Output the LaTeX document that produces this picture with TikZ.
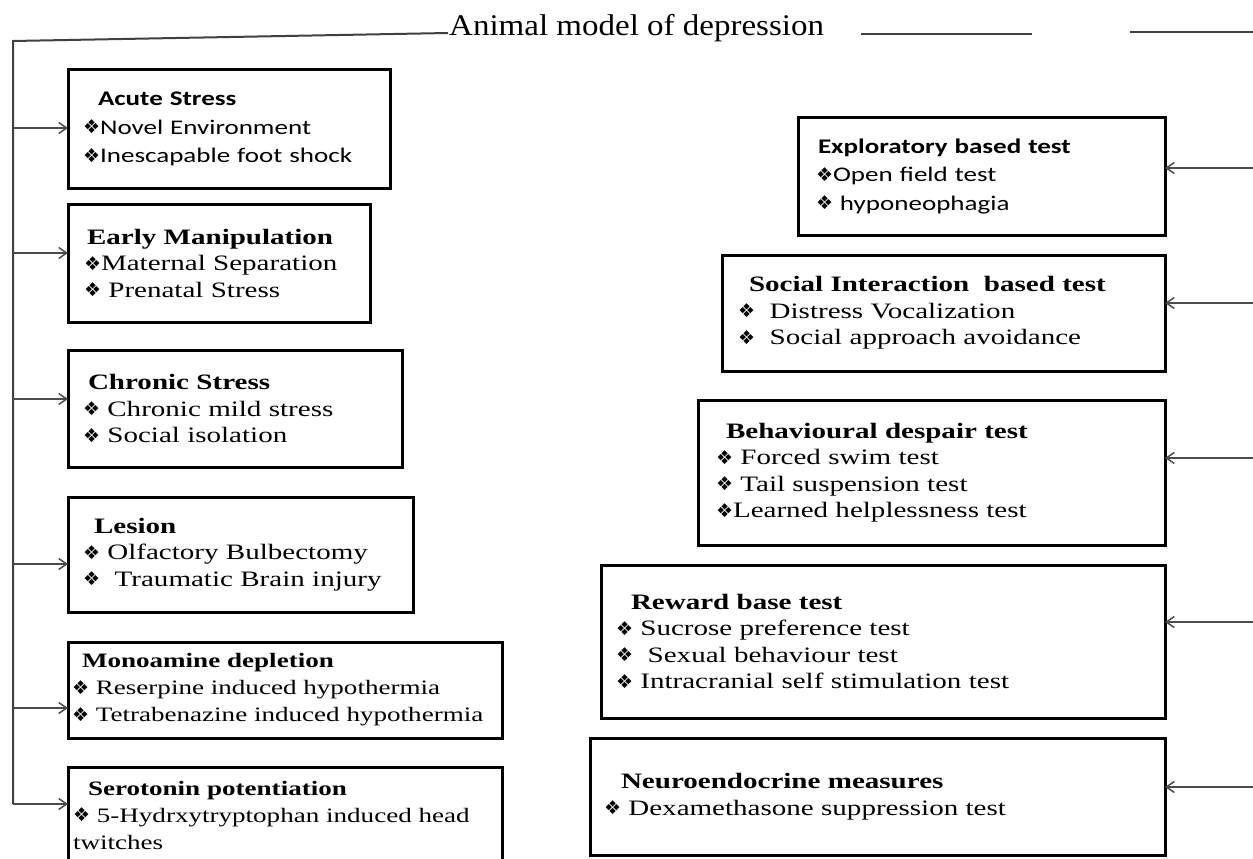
\documentclass[tikz,border=0pt]{standalone}
\usepackage{fontspec}
\setmainfont{Liberation Serif}[FakeStretch=1.32]
\newfontfamily\calfont{Carlito}[FakeStretch=1.3]
\newfontfamily\djfont{DejaVu Sans}
\newfontfamily\ttlfont{Liberation Serif}[FakeStretch=1.1]
\usetikzlibrary{arrows.meta}
\newcommand\bul{{\djfont\fontsize{19}{19}\selectfont\raisebox{0.5pt}{❖}}}
\tikzset{
  box/.style={draw=black, line width=3pt, anchor=north west, align=left,
    inner ysep=0pt, outer sep=0pt, font=\fontsize{22}{26.5}\selectfont,
    execute at begin node={\hyphenpenalty=10000\exhyphenpenalty=10000}},
  smallbox/.style={box, font=\fontsize{20.5}{27}\selectfont},
  calbox/.style={box, font=\calfont\fontsize{20.8}{28.5}\selectfont},
  arr/.style={draw=black!70, line width=1.5pt, -{Straight Barb[length=8pt,width=11pt]}},
  trunk/.style={draw=black!75, line width=2pt},
}
\begin{document}
\begin{tikzpicture}[x=1pt,y=-1pt]
\useasboundingbox (0,0) rectangle (1253,859);
\fill[white] (0,0) rectangle (1253,859);
\clip (0,0) rectangle (1253,859);

% title
\node[font=\ttlfont\fontsize{30}{30}\selectfont, anchor=base west, inner sep=0pt] (title) at (449,36) {Animal model of depression};

% left boxes
\node[calbox, minimum width=322, minimum height=118, inner xsep=15, text width=292] (acute) at (68,70)
 {\hspace*{15pt}\textbf{Acute Stress}\\\bul Novel Environment\\\bul Inescapable foot shock};
\node[box, minimum width=302, minimum height=118, inner xsep=16, text width=270] (early) at (68,204)
 {\hspace*{3pt}\textbf{Early Manipulation}\\\bul Maternal Separation\\\bul\ Prenatal Stress};
\node[box, minimum width=334, minimum height=117, inner xsep=15, text width=304] (chronic) at (68,350)
 {\hspace*{5pt}\textbf{Chronic Stress}\\\bul\ Chronic mild stress\\\bul\ Social isolation};
\node[box, minimum width=345, minimum height=115, inner xsep=15, text width=315] (lesion) at (68,497)
 {\hspace*{11pt}\textbf{Lesion}\\\bul\ Olfactory Bulbectomy\\\bul\ \ Traumatic Brain injury};
\node[smallbox, minimum width=434, minimum height=96, inner xsep=4, text width=426] (mono) at (68,642)
 {\hspace*{10pt}\textbf{Monoamine depletion}\\\bul\ Reserpine induced hypothermia\\\bul\ Tetrabenazine induced hypothermia};
\node[smallbox, minimum width=434, minimum height=96, inner xsep=5, text width=424] (sero) at (68,767)
 {\hspace*{15pt}\textbf{Serotonin potentiation}\\\bul\ 5-Hydrxytryptophan induced head\\twitches};

% right boxes
\node[calbox, minimum width=367, minimum height=118, inner xsep=18, text width=331] (explor) at (798,117)
 {\hspace*{2pt}\textbf{Exploratory based test}\\\bul Open field test\\\bul\ hyponeophagia};
\node[box, minimum width=443, minimum height=116, inner xsep=16, text width=411] (social) at (722,255)
 {\hspace*{11pt}\textbf{Social Interaction\ \ based test}\\\bul\ \ Distress Vocalization\\\bul\ \ Social approach avoidance};
\node[box, minimum width=467, minimum height=145, inner xsep=18, text width=431] (behav) at (698,400)
 {\hspace*{10pt}\textbf{Behavioural despair test}\\\bul\ Forced swim test\\\bul\ Tail suspension test\\\bul Learned helplessness test};
\node[box, minimum width=564, minimum height=153, inner xsep=15, text width=534] (reward) at (601,565)
 {\hspace*{15pt}\textbf{Reward base test}\\\bul\ Sucrose preference test\\\bul\ \ Sexual behaviour test\\\bul\ Intracranial self stimulation test};
\node[box, minimum width=575, minimum height=117, inner xsep=14, text width=547] (neuro) at (590,738)
 {\hspace*{17pt}\textbf{Neuroendocrine measures}\\\bul\ Dexamethasone suppression test\\[8pt]};

% left trunk
\coordinate (tl) at (448,33);
\coordinate (corner) at (13,41);
\coordinate (bot) at (13,804);
\draw[trunk] (tl) -- (corner) -- (bot);
\coordinate (t1) at (13,128);
\coordinate (t2) at (13,253);
\coordinate (t3) at (13,399);
\coordinate (t4) at (13,564);
\coordinate (t5) at (13,708);
\draw[arr] (t1) -- (acute.west |- t1);
\draw[arr] (t2) -- (early.west |- t2);
\draw[arr] (t3) -- (chronic.west |- t3);
\draw[arr] (t4) -- (lesion.west |- t4);
\draw[arr] (t5) -- (mono.west |- t5);
\draw[arr] (bot) -- (sero.west |- bot);

% top right segments
\coordinate (s1a) at (861,34);
\coordinate (s1b) at (1032,34);
\coordinate (s2a) at (1130,32);
\coordinate (s2b) at (1253,32);
\draw[trunk] (s1a) -- (s1b);
\draw[trunk] (s2a) -- (s2b);

% right arrows
\coordinate (r1) at (1253,168);
\coordinate (r2) at (1253,303);
\coordinate (r3) at (1253,458);
\coordinate (r4) at (1253,622);
\coordinate (r5) at (1253,787);
\draw[arr] (r1) -- (explor.east |- r1);
\draw[arr] (r2) -- (social.east |- r2);
\draw[arr] (r3) -- (behav.east |- r3);
\draw[arr] (r4) -- (reward.east |- r4);
\draw[arr] (r5) -- (neuro.east |- r5);
\end{tikzpicture}
\end{document}
